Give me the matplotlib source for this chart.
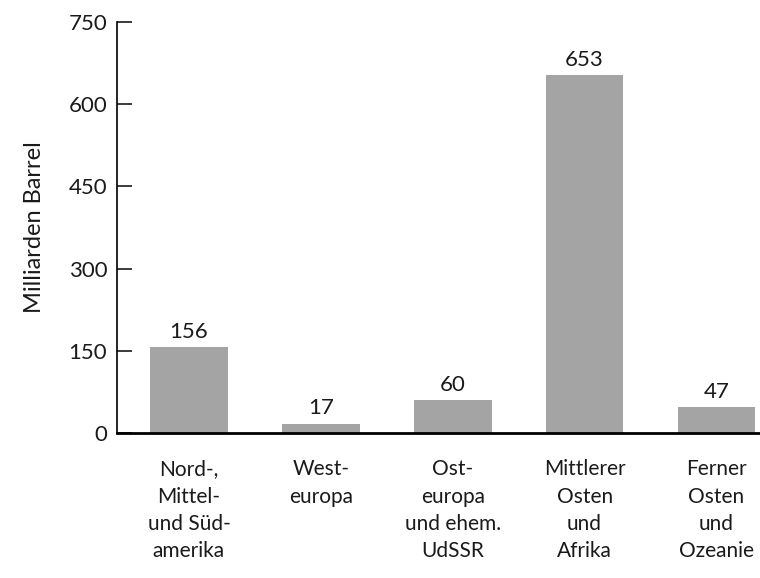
import matplotlib
matplotlib.use("Agg")
import matplotlib.pyplot as plt

regions = ["Nord-,\nMittel-\nund Süd-\namerika", "West-\neuropa",
           "Ost-\neuropa\nund ehem.\nUdSSR", "Mittlerer\nOsten\nund\nAfrika",
           "Ferner\nOsten\nund\nOzeanie"]
reserves = [156, 17, 60, 653, 47]
yticks = [0, 150, 300, 450, 600, 750]

plt.rcParams['font.family'] = ['Lato', 'DejaVu Sans']

fig = plt.figure(figsize=(7.6, 5.78), dpi=100)
ax = fig.add_axes([0.154, 0.251, 0.846, 0.711])

x = list(range(len(reserves)))
bars = ax.bar(x, reserves, width=0.59, color='#a4a4a4', edgecolor='none')
for xi, v in zip(x, reserves):
    ax.text(xi, v + 10, str(v), ha='center', va='bottom', fontsize=16,
            color='#1a1a1a')

ax.set_xlim(-0.545, 4.33)
ax.set_ylim(0, 750)
ax.set_yticks(yticks)
ax.tick_params(axis='y', direction='in', length=11, width=1.2, labelsize=16,
               pad=7, colors='#1a1a1a')
ax.set_xticks(x)
ax.set_xticklabels(regions, fontsize=15, linespacing=1.45, color='#1a1a1a')
ax.tick_params(axis='x', length=0, pad=19)

for s in ['top', 'right']:
    ax.spines[s].set_visible(False)
ax.spines['left'].set_linewidth(1.2)
ax.spines['bottom'].set_linewidth(2)
ax.set_ylabel('Milliarden Barrel', fontsize=17, labelpad=17, color='#1a1a1a')

fig.savefig('out.png', dpi=100)
